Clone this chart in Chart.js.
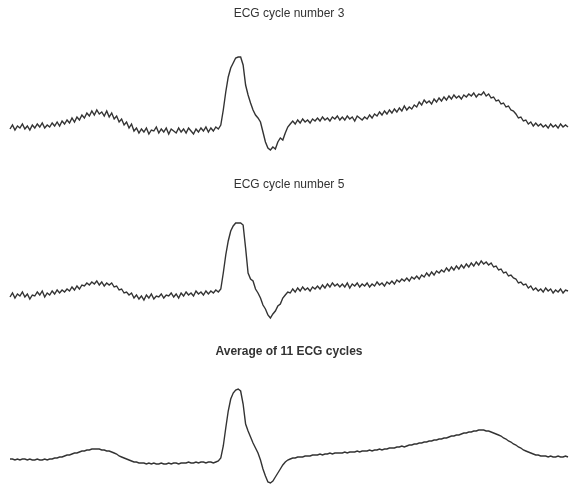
<!DOCTYPE html>
<html>
<head>
<meta charset="utf-8">
<title>ECG cycles</title>
<script src="https://cdn.jsdelivr.net/npm/chart.js@4"></script>
<style>
  body { margin: 0; background: #fff; }
  .panel { position: absolute; left: 0; width: 571px; }
</style>
</head>
<body>
<div class="panel" style="top:0px;height:165px"><canvas id="ecg3"></canvas></div>
<div class="panel" style="top:171px;height:165px"><canvas id="ecg5"></canvas></div>
<div class="panel" style="top:338px;height:148px"><canvas id="ecgAvg"></canvas></div>
<script>
// amplitudes (arbitrary units), one value per sample
const cycle3 = [
  3,7,2,6,4,8,3,6,2,7,
  4,8,5,9,4,7,5,9,6,10,
  6,11,8,12,9,14,10,15,12,17,
  14,19,16,21,17,22,18,20,16,21,
  15,19,13,16,10,13,7,10,4,8,
  1,4,-1,3,0,4,-2,2,1,5,
  -1,3,0,4,-2,3,1,-1,4,0,
  3,-1,4,1,-2,3,0,4,1,5,
  0,4,1,5,3,
  7,22,40,55,64,69,74,75,75,67,47,37,29,22,17,14,10,0,-10,-16,-18,-15,-17,-10,-6,-8,-1,5,8,
  11,8,12,9,13,10,12,9,13,11,
  14,11,15,12,14,11,15,13,16,12,
  15,12,16,13,15,11,16,14,12,15,
  13,17,14,18,16,20,17,21,18,22,
  19,23,20,24,21,26,22,25,23,27,
  25,30,27,32,29,31,28,33,30,34,
  31,35,32,36,33,37,34,36,33,37,
  35,38,36,39,35,38,37,40,36,38,
  34,35,31,32,28,29,25,26,22,21,
  18,14,15,11,12,8,10,6,9,6,
  8,5,7,4,8,5,7,4,8,5,7,5
];

const cycle5 = [
  6,10,5,9,7,11,6,9,4,8,
  7,11,8,12,6,10,8,12,9,13,
  10,13,11,14,12,16,13,17,14,18,
  17,20,18,21,19,22,18,21,17,20,
  18,20,16,17,13,14,10,11,8,10,
  5,8,4,7,3,8,5,9,4,7,
  6,9,5,8,7,10,6,9,5,10,
  7,11,8,10,7,12,9,11,8,12,
  9,12,10,13,11,
  14,30,48,62,72,77,80,80,80,78,55,30,24,22,14,10,5,-2,-6,-12,-15,-11,-8,-3,-1,5,8,11,10,
  14,11,15,12,16,13,15,12,16,14,
  17,14,18,15,19,16,20,17,19,16,
  19,16,20,15,19,17,20,16,19,17,
  20,16,19,17,21,18,20,17,21,19,
  22,19,23,21,24,22,25,22,26,24,
  27,24,28,26,30,27,31,28,32,30,
  33,31,35,32,36,33,37,34,38,35,
  39,36,40,37,41,38,42,39,41,38,
  40,36,37,33,34,30,31,27,28,25,
  24,20,21,18,19,15,17,13,15,12,
  14,11,15,12,14,10,13,11,14,10,13,12
];

const average11 = [
  7,7,6,7,6,7,7,6,7,6,
  6,7,6,6,7,6,7,7,8,8,
  9,9,10,11,11,12,13,13,14,15,
  15,16,16,17,17,17,17,16,16,15,
  15,14,13,12,10,9,8,7,6,5,
  4,4,3,3,3,2,3,2,3,2,
  2,3,2,2,3,2,3,3,2,3,
  3,3,4,3,3,4,3,4,4,3,
  4,4,3,4,5,
  8,20,38,55,67,73,76,77,75,62,42,35,29,23,18,13,6,-3,-10,-16,-17,-15,-11,-7,-3,1,4,6,7,
  8,8,9,9,9,10,10,10,11,11,
  11,12,11,12,12,13,12,13,13,13,
  13,14,13,14,14,14,15,14,15,15,
  15,16,15,16,16,17,16,17,17,18,
  18,18,19,19,20,19,20,21,21,22,
  22,23,23,24,24,25,25,26,26,27,
  27,28,28,29,30,30,31,31,32,33,
  33,34,34,35,35,36,36,36,35,35,
  34,33,32,31,30,28,27,25,24,22,
  21,19,18,16,15,14,13,12,11,11,
  10,10,10,9,10,9,9,10,9,9,10,9
];

const titles = ['ECG cycle number 3', 'ECG cycle number 5', 'Average of 11 ECG cycles'];

const makeECG = (id, title, values, yMin, yMax, bold) => {
  return new Chart(document.getElementById(id), {
    type: 'line',
    data: {
      labels: values.map((_, i) => i),
      datasets: [{
        data: values,
        borderColor: '#333',
        borderWidth: 1.4,
        pointRadius: 0,
        tension: 0,
        clip: false
      }]
    },
    options: {
      responsive: true,
      maintainAspectRatio: false,
      animation: false,
      layout: { padding: { left: 10, right: 3, top: 0, bottom: 0 } },
      scales: {
        x: { display: false },
        y: { display: false, min: yMin, max: yMax }
      },
      plugins: {
        legend: { display: false },
        tooltip: { enabled: false },
        title: {
          display: true,
          text: title,
          color: '#333',
          font: { family: 'Liberation Sans, Arial, sans-serif', size: 12, weight: bold ? 'bold' : 'normal' },
          padding: { top: 6, bottom: 2 }
        }
      }
    }
  });
};

makeECG('ecg3', titles[0], cycle3, -33, 109.6, false);
makeECG('ecg5', titles[1], cycle5, -33, 109.6, false);
makeECG('ecgAvg', titles[2], average11, -20, 105.6, true);
</script>
</body>
</html>
